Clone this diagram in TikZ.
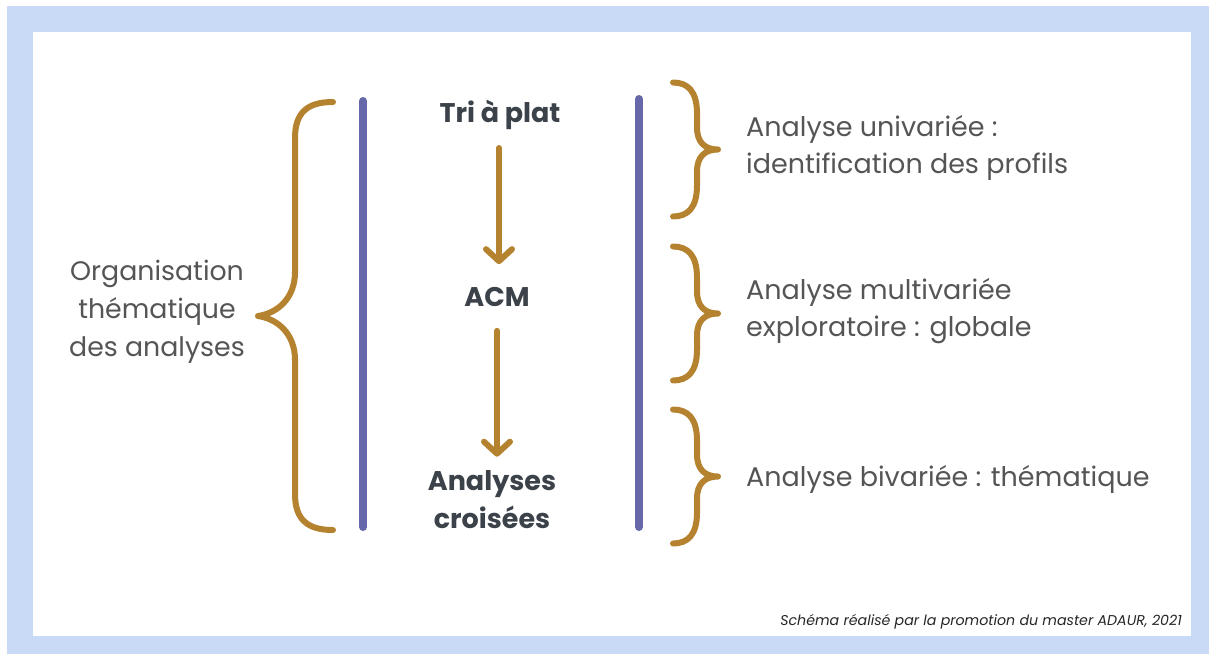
\documentclass[tikz,border=0pt]{standalone}
\usepackage{fontspec}
\setmainfont{Poppins}
\usetikzlibrary{arrows.meta}
\definecolor{frameblue}{HTML}{C9DAF6}
\definecolor{gold}{HTML}{B5832F}
\definecolor{violet}{HTML}{6668AA}
\definecolor{txtgray}{HTML}{555555}
\definecolor{txtdark}{HTML}{3C4249}
\begin{document}
\begin{tikzpicture}[x=1pt,y=-1pt,
  brace/.style={draw=gold,line width=6pt,line cap=round,line join=round},
  bar/.style={draw=violet,line width=8pt,line cap=round},
  arr/.style={draw=gold,line width=6pt,line cap=round,-{Straight Barb[length=12pt,width=26pt,round]}},
  steptext/.style={font=\fontsize{27}{38}\selectfont\bfseries,text=txtdark,align=center,inner sep=0pt},
  desc/.style={font=\fontsize{27}{37}\selectfont,text=txtgray,align=left,inner sep=0pt,anchor=west},
  lefttext/.style={font=\fontsize{26.8}{38}\selectfont,text=txtgray,align=center,inner sep=0pt},
  note/.style={font=\fontsize{14.2}{16}\selectfont\itshape,text=black!85,inner sep=0pt,anchor=east}]
\useasboundingbox (0,0) rectangle (1209,654);
\fill[frameblue] (7,6) rectangle (1209,654);
\fill[white] (33,32) rectangle (1191,636);

% left brace
\draw[brace] (333,102) .. controls (308,102) and (295,112) .. (295,138) -- (295,272)
  .. controls (295,298) and (278,313) .. (258,316)
  .. controls (278,319) and (295,334) .. (295,360) -- (295,494)
  .. controls (295,520) and (308,530) .. (333,530);

% vertical bars
\draw[bar] (363,101) -- (363,527);
\draw[bar] (639,99) -- (639,527);

% right braces
\foreach \ym in {149.5,313.5,476.5}{
  \begin{scope}[shift={(0,\ym)}]
  \draw[brace] (673,-67) .. controls (688,-67) and (697,-58) .. (697,-36) -- (697,-22)
    .. controls (697,-7) and (705,0) .. (718,0)
    .. controls (705,0) and (697,7) .. (697,22) -- (697,36)
    .. controls (697,58) and (688,67) .. (673,67);
  \end{scope}
}

% central steps
\node[steptext] (tri) at (500,115) {Tri à plat};
\node[steptext] (acm) at (497,297) {ACM};
\node[steptext] (croise) at (492,500) {Analyses\\croisées};
\draw[arr,shorten <=18pt,shorten >=23pt] (tri.south -| 499,0) -- (acm.north -| 499,0);
\draw[arr,shorten <=24pt,shorten >=14pt] (acm.south -| 497,0) -- (croise.north -| 497,0);

% left label
\node[lefttext] (orga) at (157,312) {Organisation\\thématique\\des analyses};

% right labels
\node[desc] (uni) at (746,148) {Analyse univariée :\\identification des profils};
\node[desc] (multi) at (746,311) {Analyse multivariée\\exploratoire : globale};
\node[desc] (bi) at (746,479) {Analyse bivariée : thématique};

% footnote
\node[note] (credit) at (1182,622) {Schéma réalisé par la promotion du master ADAUR, 2021};
\end{tikzpicture}
\end{document}
